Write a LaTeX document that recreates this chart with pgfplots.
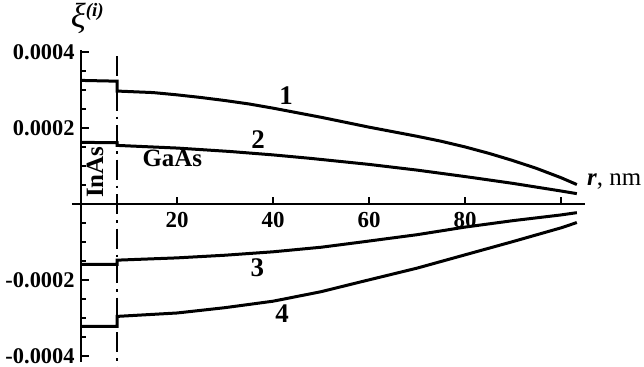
\documentclass[border=0pt]{standalone}
\usepackage{fontspec}
\setmainfont{Liberation Serif}
\usepackage{pgfplots}
\pgfplotsset{compat=1.18}
\begin{document}
\begin{tikzpicture}
\path[use as bounding box] (-72bp,-5bp) rectangle (572bp,362bp);
\begin{axis}[
 scale only axis, width=513bp, height=311.6bp,
 xmin=-1.9, xmax=105, ymin=-0.000415, ymax=0.000405,
 axis lines=middle, axis line style={-, line width=2.4bp},
 xtick={20,40,60,80,100}, xticklabels={20,40,60,80,{}},
 ytick={-0.0004,-0.0002,0.0002,0.0004}, yticklabels={-0.0004,-0.0002,0.0002,0.0004},
 minor ytick={-0.00035,-0.0003,-0.00025,-0.00015,-0.0001,-0.00005,0.00005,0.0001,0.00015,0.00025,0.0003,0.00035},
 tick align=inside,
 major tick length=7.5bp, minor tick length=4.5bp,
 tick style={line width=2.2bp, black},
 xtick style={line width=2.2bp, black},
 ytick style={line width=2.2bp, black},
 xticklabel style={font=\fontsize{23}{27}\selectfont\bfseries, yshift=-4bp},
 yticklabel style={font=\fontsize{22.5}{26}\selectfont\bfseries, xshift=-3bp},
 clip=false,
 scaled y ticks=false,
]
\addplot[black, line width=3bp] coordinates {(0,0.000326)(7.5,0.000324)(7.5,0.000298)(15,0.000294)(20,0.000288)(25,0.000281)(30,0.000273)(35,0.000264)(40,0.000253)(45,0.000241)(50,0.000229)(55,0.000216)(60,0.000203)(65,0.000191)(70,0.000179)(75,0.000166)(80,0.000151)(85,0.000134)(90,0.000115)(95,0.000094)(100,0.000070)(103.3,0.000052)};
\addplot[black, line width=3bp] coordinates {(0,0.000163)(7.5,0.000162)(7.5,0.000155)(20,0.000148)(31,0.000139)(40,0.000130)(47.7,0.000121)(60,0.000105)(70,0.000090)(80,0.000073)(90,0.000055)(100,0.000035)(103.3,0.000028)};
\addplot[black, line width=3bp] coordinates {(0,-0.000158)(7.5,-0.000158)(7.5,-0.000147)(20,-0.000141)(30,-0.000134)(40,-0.000125)(50,-0.000113)(58,-0.000100)(70,-0.000080)(80,-0.000060)(90,-0.000043)(100,-0.000028)(103.3,-0.000022)};
\addplot[black, line width=3bp] coordinates {(0,-0.000321)(7.5,-0.000321)(7.5,-0.000295)(20,-0.000286)(30,-0.000272)(40,-0.000255)(50,-0.000230)(58,-0.000205)(70,-0.000168)(80,-0.000133)(90,-0.000098)(100,-0.000062)(103.3,-0.000048)};
\addplot[black, line width=2.4bp, dash pattern=on 20bp off 6bp on 2.5bp off 6bp] coordinates {(7.5,0.00039)(7.5,-0.00043)};
\node[font=\fontsize{27}{30}\selectfont\bfseries] at (axis cs:42.7,0.000287) {1};
\node[font=\fontsize{27}{30}\selectfont\bfseries] at (axis cs:36.9,0.000171) {2};
\node[font=\fontsize{27}{30}\selectfont\bfseries] at (axis cs:36.7,-0.000168) {3};
\node[font=\fontsize{27}{30}\selectfont\bfseries] at (axis cs:41.9,-0.000287) {4};
\node[font=\fontsize{25}{29}\selectfont\bfseries, rotate=90] at (axis cs:2.9,0.000084) {InAs};
\node[font=\fontsize{25}{29}\selectfont\bfseries] at (axis cs:19,0.000121) {GaAs};
\node[anchor=west, font=\fontsize{25}{29}\selectfont, inner sep=0pt] at (axis cs:105.4,0.0000605) {\textbf{\textit{r}}, nm};
\node[inner sep=0pt] at (axis cs:1.3,0.000490) {{\fontsize{35}{38}\selectfont\textit{ξ}}\raisebox{11bp}{\fontsize{19}{21}\selectfont\bfseries\itshape (i)}};
\end{axis}
\end{tikzpicture}
\end{document}
